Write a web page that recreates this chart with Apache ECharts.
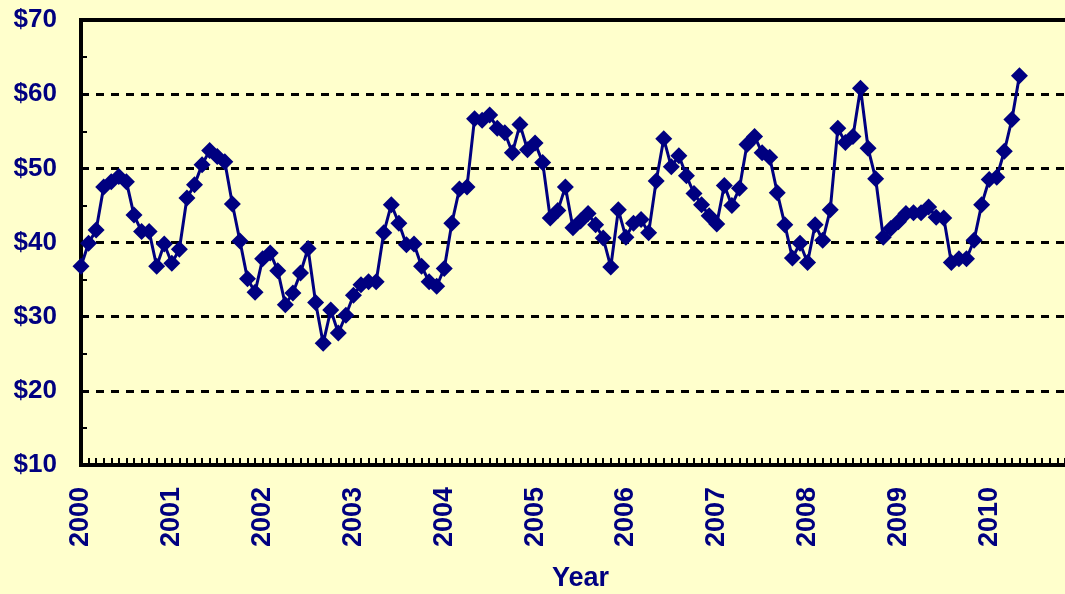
<!DOCTYPE html>
<html>
<head>
<meta charset="utf-8">
<script src="https://cdn.jsdelivr.net/npm/echarts@6/dist/echarts.min.js"></script>
<style>
  html, body { margin: 0; padding: 0; background: #FFFFCC; overflow: hidden; }
  #chart { width: 1100px; height: 594px; }
</style>
</head>
<body>
<div id="chart"></div>
<script>
// Monthly values, starting January 2000
var startYear = 2000;
var prices = [
  36.8, 39.9, 41.7, 47.5, 48.2, 48.9, 48.2, 43.7, 41.5, 41.5, 36.8, 39.8,
  37.2, 39.1, 46.0, 47.8, 50.5, 52.4, 51.6, 50.9, 45.2, 40.2, 35.1, 33.3,
  37.8, 38.6, 36.2, 31.6, 33.2, 35.9, 39.2, 31.9, 26.4, 30.9, 27.8, 30.2,
  32.9, 34.3, 34.7, 34.7, 41.3, 45.1, 42.6, 39.7, 39.8, 36.8, 34.7, 34.1,
  36.5, 42.6, 47.2, 47.5, 56.7, 56.5, 57.2, 55.4, 54.8, 52.1, 55.9, 52.5,
  53.4, 50.8, 43.3, 44.3, 47.5, 42.0, 42.9, 43.9, 42.4, 40.6, 36.7, 44.4,
  40.7, 42.6, 43.1, 41.3, 48.3, 54.0, 50.2, 51.7, 49.0, 46.6, 45.1, 43.6,
  42.5, 47.7, 45.0, 47.3, 53.2, 54.3, 52.1, 51.5, 46.7, 42.4, 37.9, 39.9,
  37.3, 42.4, 40.3, 44.4, 55.4, 53.5, 54.3, 60.8, 52.7, 48.6, 40.7, 41.9,
  42.8, 43.9, 44.0, 44.0, 44.8, 43.4, 43.3, 37.3, 37.8, 37.8, 40.3, 45.1,
  48.5, 48.8, 52.3, 56.6, 62.5
];
var yearTicks = [2000, 2001, 2002, 2003, 2004, 2005, 2006, 2007, 2008, 2009, 2010];
var xAxisName = 'Year';

var seriesData = prices.map(function (v, i) { return [startYear + i / 12, v]; });

var navy = '#000080';
var chart = echarts.init(document.getElementById('chart'));
chart.setOption({
  backgroundColor: '#FFFFCC',
  animation: false,
  grid: {
    left: 81, right: 20, top: 20, bottom: 129,
    outerBoundsMode: 'none',
    containLabel: false,
    show: true, borderColor: '#000', borderWidth: 4, backgroundColor: 'transparent'
  },
  xAxis: {
    type: 'value',
    min: 2000, max: 2011, interval: 1,
    name: xAxisName,
    nameLocation: 'middle',
    nameGap: 100,
    nameMoveOverlap: false,
    nameTextStyle: { color: navy, fontSize: 27, fontWeight: 'bold', fontFamily: 'Liberation Sans, Arial, sans-serif' },
    axisLine: { show: true, lineStyle: { color: '#000', width: 4 } },
    axisTick: { show: true, inside: true, length: 7, lineStyle: { color: '#000', width: 2 } },
    minorTick: { show: true, splitNumber: 12, length: 7, lineStyle: { color: '#000', width: 2 } },
    splitLine: { show: false },
    minorSplitLine: { show: false },
    axisLabel: {
      rotate: 90,
      margin: 22,
      color: navy, fontSize: 27, fontWeight: 'bold', fontFamily: 'Liberation Sans, Arial, sans-serif',
      showMaxLabel: false,
      formatter: function (v) { return yearTicks.indexOf(v) >= 0 ? String(v) : ''; }
    }
  },
  yAxis: {
    type: 'value',
    min: 10, max: 70, interval: 10,
    axisLine: { show: true, lineStyle: { color: '#000', width: 4 } },
    axisTick: { show: true, inside: true, length: 6, lineStyle: { color: '#000', width: 2 } },
    minorTick: { show: true, splitNumber: 2, length: 6, lineStyle: { color: '#000', width: 2 } },
    splitLine: { show: true, lineStyle: { color: '#000', width: 3, type: [8, 7] } },
    axisLabel: {
      margin: 24,
      color: navy, fontSize: 26, fontWeight: 'bold', fontFamily: 'Liberation Sans, Arial, sans-serif',
      formatter: function (v) { return '$' + v; }
    }
  },
  series: [{
    type: 'line',
    data: seriesData,
    symbol: 'diamond',
    symbolSize: 17,
    showAllSymbol: true,
    lineStyle: { color: navy, width: 3 },
    itemStyle: { color: navy },
    z: 5
  }]
});
</script>
</body>
</html>
